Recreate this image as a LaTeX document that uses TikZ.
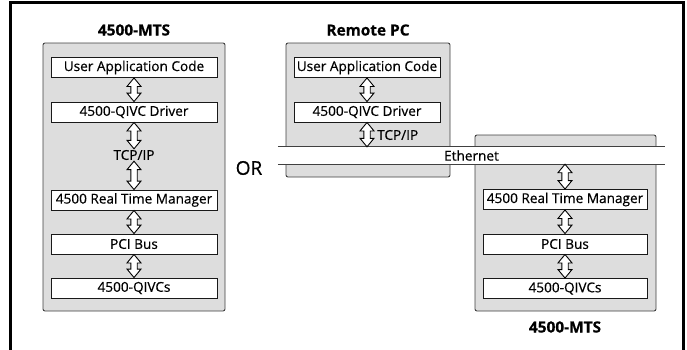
\documentclass[tikz,border=0pt]{standalone}
\usepackage{fontspec}
\setmainfont{Open Sans}[FakeBold=0.5]
\usetikzlibrary{calc}
\definecolor{boxgray}{RGB}{221,221,221}
\begin{document}
\begin{tikzpicture}[x=1pt,y=-1pt,
  frame/.style={line width=3pt},
  unit/.style={draw=black!75, line width=0.9pt, fill=boxgray, rounded corners=2pt, inner sep=0pt},
  layer/.style={draw=black!90, line width=0.9pt, fill=white, inner sep=0pt, minimum height=20pt, font=\fontsize{13.6}{15}\selectfont},
  ttl/.style={font=\bfseries\fontsize{15.4}{17}\selectfont, inner sep=0pt},
  lbl/.style={font=\fontsize{13.6}{15}\selectfont, inner sep=0pt},
  arr/.style={draw=black, line width=0.9pt, fill=white,
    to path={let \p1=(\tikztostart), \p2=(\tikztotarget) in
      (\x1,\y1) -- (\x1-7pt,\y1-8.5pt) -- (\x1-3.2pt,\y1-8.5pt) -- (\x1-3.2pt,\y2+8.5pt)
      -- (\x1-7pt,\y2+8.5pt) -- (\x1,\y2) -- (\x1+7pt,\y2+8.5pt) -- (\x1+3.2pt,\y2+8.5pt)
      -- (\x1+3.2pt,\y1-8.5pt) -- (\x1+7pt,\y1-8.5pt) -- cycle}}
]
\useasboundingbox (0,0) rectangle (687,349);
% outer frame
\draw[frame] (10.5,352) -- (10.5,2.5) -- (683,2.5) -- (683,352);

% left unit: 4500-MTS
\node[ttl] (t1) at (134,30) {4500-MTS};
\node[unit, minimum width=182pt, minimum height=268pt] (u1) at (134,177) {};
\node[layer, minimum width=166pt] (l1a) at (134,67.5) {User Application Code};
\node[layer, minimum width=166pt] (l1b) at (134,112) {4500-QIVC Driver};
\node[lbl] (l1c) at (134,155) {TCP/IP};
\node[layer, minimum width=166pt] (l1d) at (134,200) {4500 Real Time Manager};
\node[layer, minimum width=166pt] (l1e) at (134,244) {PCI Bus};
\node[layer, minimum width=166pt] (l1f) at (134,288) {4500-QIVCs};
\draw[arr] (l1a.south) to (l1b.north);
\draw[arr] (l1b.south) to ([yshift=1pt]l1c.north);
\draw[arr] ([yshift=-1pt]l1c.south) to (l1d.north);
\draw[arr] (l1d.south) to (l1e.north);
\draw[arr] (l1e.south) to (l1f.north);

% OR
\node[font=\fontsize{19}{22}\selectfont, inner sep=0pt] (or) at (249,168) {OR};

% remote PC
\node[ttl] (t2) at (368,30) {Remote PC};
\node[unit, minimum width=164pt, minimum height=134pt] (u2) at (368,110) {};
\node[layer, minimum width=146pt] (l2a) at (367,67.5) {User Application Code};
\node[layer, minimum width=146pt] (l2b) at (367,112) {4500-QIVC Driver};
\draw[arr] (l2a.south) to (l2b.north);

% right unit: 4500-MTS
\node[unit, minimum width=181pt, minimum height=176pt] (u3) at (565.5,223) {};
\node[ttl] (t3) at (565,327) {4500-MTS};
\node[layer, minimum width=164pt] (l3d) at (565,199.5) {4500 Real Time Manager};
\node[layer, minimum width=164pt] (l3e) at (565,244) {PCI Bus};
\node[layer, minimum width=164pt] (l3f) at (565,288.5) {4500-QIVCs};
\draw[arr] (l3d.south) to (l3e.north);
\draw[arr] (l3e.south) to (l3f.north);

% Ethernet band
\node[fill=white, inner sep=0pt, minimum width=387pt, minimum height=17pt, font=\fontsize{13.6}{15}\selectfont] (eth) at (471.5,155.5) {Ethernet};
\draw[draw=black!75, line width=0.8pt] (eth.north west) -- (eth.north east);
\draw[draw=black!75, line width=0.8pt] (eth.south west) -- (eth.south east);
\coordinate (ethL) at (l2b.south |- eth.north);
\coordinate (ethR) at (l3d.north |- eth.south);
\draw[arr] (l2b.south) to (ethL);
\node[lbl, anchor=west] (tcp2) at (377,135) {TCP/IP};
\draw[arr] (ethR) to (l3d.north);
\end{tikzpicture}
\end{document}
